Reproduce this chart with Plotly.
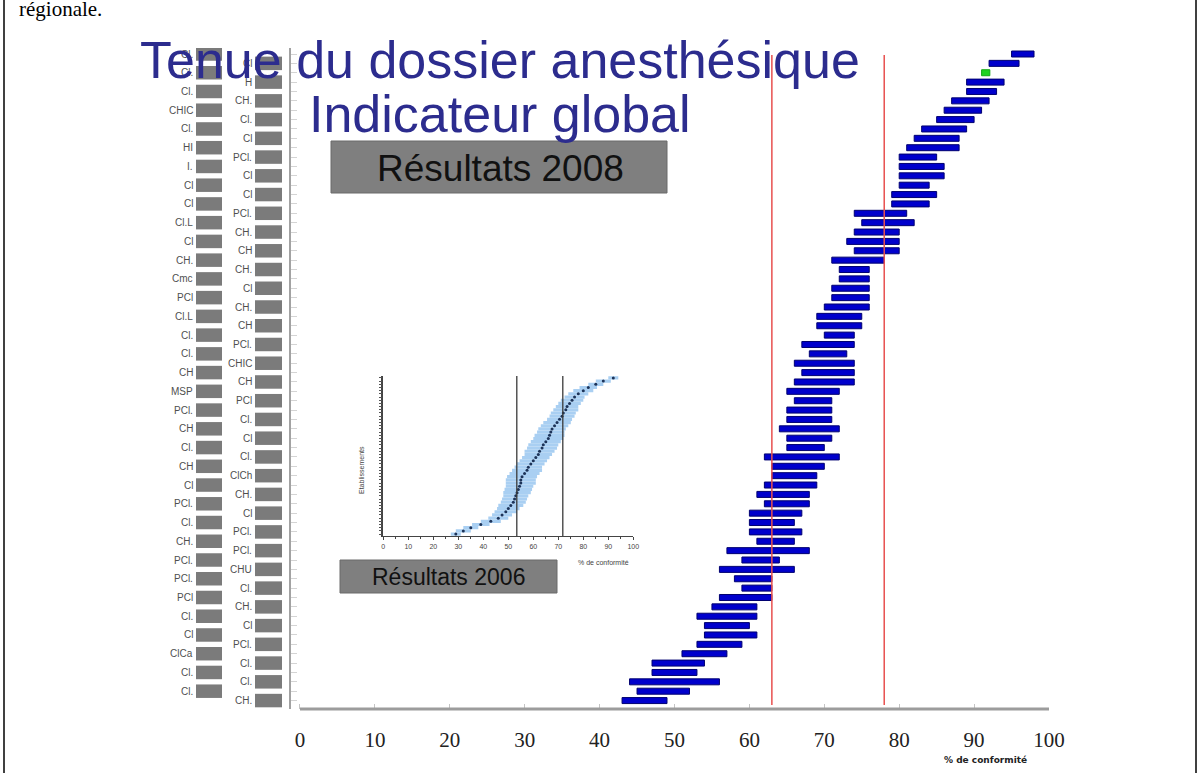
import plotly.graph_objects as go

# figure size and plot-area margins (pixels)
W, H = 1202, 773
L, R, T, B = 291, 153, 48, 64
PW, PH = W - L - R, H - T - B


def px(x):
    # pixel x -> paper x
    return (x - L) / PW


def py(y):
    # pixel y (from top) -> paper y
    return (H - B - y) / PH


# 2008 results, one row per establishment (top to bottom)
rows = list(range(1, 71))
low_2008 = [95, 92, 91, 89, 89, 87, 86, 85, 83, 82,
            81, 80, 80, 80, 80, 79, 79, 74, 75, 74,
            73, 74, 71, 72, 72, 71, 71, 70, 69, 69,
            70, 67, 68, 66, 67, 66, 65, 66, 65, 65,
            64, 65, 65, 62, 63, 63, 62, 61, 62, 60,
            60, 60, 61, 57, 59, 56, 58, 59, 56, 55,
            53, 54, 54, 53, 51, 47, 47, 44, 45, 43]
high_2008 = [98, 96, 92.1, 94, 93, 92, 91, 90, 89, 88,
             88, 85, 86, 86, 84, 85, 84, 81, 82, 80,
             80, 80, 78, 76, 76, 76, 76, 76, 75, 75,
             74, 74, 73, 74, 74, 74, 72, 71, 71, 71,
             72, 71, 70, 72, 70, 69, 69, 68, 68, 67,
             66, 67, 66, 68, 64, 66, 63, 63, 63, 61,
             61, 60, 61, 59, 57, 54, 53, 56, 52, 49]
highlight_row = 3
ref_lines = [63, 78]

left_labels = ["Cl.", "Cl.", "Cl.", "CHIC", "Cl.", "HI", "I.", "Cl", "Cl", "Cl.L",
               "Cl", "CH.", "Cmc", "PCl", "Cl.L", "Cl.", "Cl.", "CH", "MSP", "PCl.",
               "CH", "Cl.", "CH", "Cl", "PCl.", "Cl.", "CH.", "PCl.", "PCl.", "PCl",
               "Cl.", "Cl", "ClCa", "Cl.", "Cl."]
right_labels = ["Cl", "H", "CH.", "Cl.", "Cl", "PCl.", "Cl", "Cl", "PCl.", "CH.",
                "CH", "CH.", "Cl", "CH.", "CH", "PCl.", "CHIC", "CH", "PCl", "Cl.",
                "Cl", "Cl.", "ClCh", "CH.", "Cl", "PCl.", "PCl.", "CHU", "Cl.", "CH.",
                "Cl", "PCl.", "Cl.", "Cl.", "CH."]

x_ticks = [0, 10, 20, 30, 40, 50, 60, 70, 80, 90, 100]

# 2006 results (inset), sorted from lowest to highest
inset_mid = [29, 32, 35, 39, 43, 46, 47.5, 49, 50, 51,
             52, 52.5, 53, 53.5, 54, 54.5, 55, 55, 55.5, 56.5,
             57.5, 58, 59, 60, 61, 62, 62.5, 63.5, 64, 65,
             66, 66.5, 67, 67.5, 68.5, 69.5, 70.5, 71.5, 72, 73,
             73.5, 74.5, 75.5, 76.5, 78, 80, 82, 85, 88, 92]
inset_half = [2, 3, 3, 3.5, 4, 4, 4, 4.5, 4.5, 5,
              5, 5, 5, 5.5, 5.5, 5.5, 6, 6, 6, 6,
              6, 5.5, 5.5, 5.5, 5.5, 5.5, 6, 6, 6, 6,
              6, 6, 5.5, 5.5, 5.5, 5.5, 5, 5, 5, 5,
              4.5, 4.5, 4.5, 4, 4, 4, 3.5, 3, 3, 2]
inset_lines = [53.4, 71.8]

bar_colors = ["#1fd21f" if r == highlight_row else "#0000cc" for r in rows]
line_colors = ["#16a816" if r == highlight_row else "#000070" for r in rows]

fig = go.Figure()

fig.add_trace(go.Bar(
    y=rows,
    x=[h - l for l, h in zip(low_2008, high_2008)],
    base=low_2008,
    orientation="h",
    width=0.64,
    marker=dict(color=bar_colors, line=dict(color=line_colors, width=1)),
    showlegend=False,
    hoverinfo="skip",
))

# inset: 2006 results
inset_idx = list(range(len(inset_mid)))
inset_lo = [m - h for m, h in zip(inset_mid, inset_half)]
fig.add_trace(go.Bar(
    y=inset_idx,
    x=[2 * h for h in inset_half],
    base=inset_lo,
    orientation="h",
    width=1.0,
    marker=dict(color="#a9cff2", line=dict(width=0)),
    xaxis="x2", yaxis="y2",
    showlegend=False,
    hoverinfo="skip",
))
fig.add_trace(go.Scatter(
    x=inset_mid, y=inset_idx,
    mode="markers",
    marker=dict(size=3, color="#1d3358"),
    xaxis="x2", yaxis="y2",
    showlegend=False,
    hoverinfo="skip",
))

shapes = []
# red reference lines
for v in ref_lines:
    shapes.append(dict(type="line", xref="x", yref="paper", x0=v, x1=v,
                       y0=py(705), y1=py(55), line=dict(color="#e8504f", width=1.5)))
# x axis line, only from 0 to 100
shapes.append(dict(type="line", xref="x", yref="paper", x0=0, x1=100, y0=0, y1=0,
                   line=dict(color="#9c9c9c", width=3)))
# inset reference lines
for v in inset_lines:
    shapes.append(dict(type="line", xref="x2", yref="y2 domain", x0=v, x1=v, y0=0, y1=1,
                       line=dict(color="#3a3a3a", width=1.3)))
# page border
for xb in [4, 1196]:
    shapes.append(dict(type="line", xref="paper", yref="paper", x0=px(xb), x1=px(xb),
                       y0=py(0), y1=py(H), line=dict(color="black", width=1.5)))
# "Résultats" boxes
shapes.append(dict(type="rect", xref="paper", yref="paper", x0=px(331), x1=px(667),
                   y0=py(193), y1=py(141), fillcolor="#7f7f7f", line=dict(color="#6a6a6a", width=1)))
shapes.append(dict(type="rect", xref="paper", yref="paper", x0=px(340), x1=px(557),
                   y0=py(593), y1=py(560), fillcolor="#7f7f7f", line=dict(color="#6a6a6a", width=1)))

annotations = []
# establishment labels with masked names
for k, lab in enumerate(left_labels):
    r = 2 * k + 1
    annotations.append(dict(text=lab, xref="paper", yref="y", x=px(195), y=r,
                            xanchor="right", yanchor="middle", showarrow=False,
                            font=dict(family="Liberation Sans", size=10, color="#4f4f4f")))
    shapes.append(dict(type="rect", xref="paper", yref="y", x0=px(196), x1=px(222),
                       y0=r - 0.72, y1=r + 0.72, fillcolor="#7b7b7b", line=dict(width=0)))
for k, lab in enumerate(right_labels):
    r = 2 * k + 2
    annotations.append(dict(text=lab, xref="paper", yref="y", x=px(254), y=r,
                            xanchor="right", yanchor="middle", showarrow=False,
                            font=dict(family="Liberation Sans", size=10, color="#4f4f4f")))
    shapes.append(dict(type="rect", xref="paper", yref="y", x0=px(255), x1=px(282),
                       y0=r - 0.72, y1=r + 0.72, fillcolor="#7b7b7b", line=dict(width=0)))

title_font = dict(family="Liberation Sans", size=52, color="#2c2c8e")
annotations += [
    dict(text="Tenue du dossier anesthésique", xref="paper", yref="paper",
         x=px(500), y=py(60), xanchor="center", yanchor="middle", showarrow=False, font=title_font),
    dict(text="Indicateur global", xref="paper", yref="paper",
         x=px(500), y=py(114), xanchor="center", yanchor="middle", showarrow=False, font=title_font),
    dict(text="Résultats 2008", xref="paper", yref="paper",
         x=px(500), y=py(168), xanchor="center", yanchor="middle", showarrow=False,
         font=dict(family="Liberation Sans", size=37, color="#111111")),
    dict(text="Résultats 2006", xref="paper", yref="paper",
         x=px(448), y=py(577), xanchor="center", yanchor="middle", showarrow=False,
         font=dict(family="Liberation Sans", size=23, color="#111111")),
    dict(text="<b>% de conformité</b>", xref="paper", yref="paper",
         x=px(985), y=py(760), xanchor="center", yanchor="middle", showarrow=False,
         font=dict(family="DejaVu Sans", size=9, color="#222222")),
    dict(text="% de conformité", xref="paper", yref="paper",
         x=px(603), y=py(562), xanchor="center", yanchor="middle", showarrow=False,
         font=dict(family="Liberation Sans", size=7, color="#444444")),
    dict(text="Etablissements", xref="paper", yref="paper", textangle=-90,
         x=px(361), y=py(470), xanchor="center", yanchor="middle", showarrow=False,
         font=dict(family="Liberation Sans", size=7, color="#444444")),
    dict(text="régionale.", xref="paper", yref="paper",
         x=px(17), y=py(23), xanchor="left", yanchor="bottom", showarrow=False,
         font=dict(family="Liberation Serif", size=21, color="black")),
]

fig.update_layout(
    width=W, height=H,
    margin=dict(l=L, r=R, t=T, b=B),
    paper_bgcolor="white",
    plot_bgcolor="rgba(0,0,0,0)",
    barmode="overlay",
    showlegend=False,
    shapes=shapes,
    annotations=annotations,
    xaxis=dict(
        range=[-1.2, 100],
        tickvals=x_ticks,
        ticks="inside", ticklen=5, tickcolor="#c4c4c4",
        showline=False, showgrid=False, zeroline=False,
        ticklabelstandoff=16,
        tickfont=dict(family="Liberation Serif", size=21, color="#222222"),
    ),
    yaxis=dict(
        range=[70.9, 0.36],
        tickvals=rows,
        ticks="inside", ticklen=6, tickcolor="#d4d4d4",
        showticklabels=False,
        showline=True, linecolor="#a2a2a2", linewidth=2,
        showgrid=False, zeroline=False,
    ),
    xaxis2=dict(
        domain=[px(383.3), px(633.3)],
        anchor="y2",
        range=[0, 100],
        dtick=10,
        ticks="outside", ticklen=3, tickcolor="#444444",
        minor=dict(dtick=5, ticks="outside", ticklen=2, tickcolor="#444444"),
        showline=True, linecolor="#444444", linewidth=1.2,
        showgrid=False, zeroline=False,
        tickfont=dict(family="Liberation Sans", size=7, color="#444444"),
    ),
    yaxis2=dict(
        domain=[py(536), py(376)],
        anchor="x2",
        range=[-0.6, 49.6],
        dtick=1,
        ticks="outside", ticklen=3, tickcolor="#555555",
        showticklabels=False,
        showline=True, linecolor="#444444", linewidth=1.5,
        showgrid=False, zeroline=False,
    ),
)

# page default body margin would shift the figure by 8px
fig.write_html(
    "out.html",
    config={"displayModeBar": False},
    post_script="document.body.style.margin='0px';document.body.style.overflow='hidden';",
)
